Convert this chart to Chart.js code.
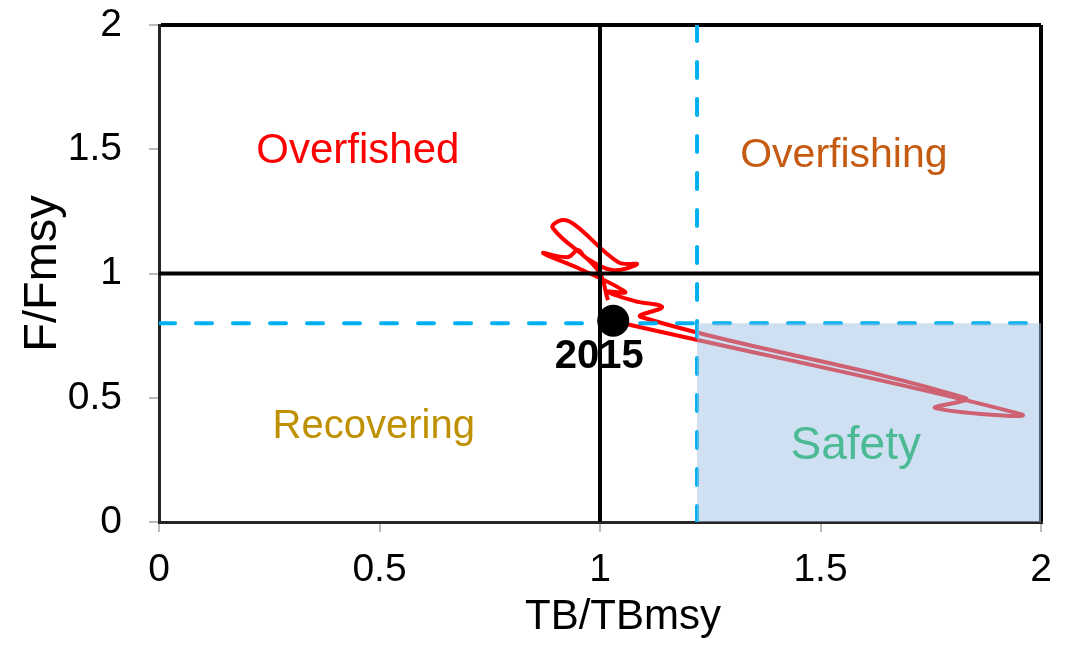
<!DOCTYPE html>
<html>
<head>
<meta charset="utf-8">
<script src="https://cdn.jsdelivr.net/npm/chart.js@4/dist/chart.umd.min.js"></script>
<style>
  html, body { margin: 0; padding: 0; background: #fff; }
  #wrap { width: 1078px; height: 650px; }
</style>
</head>
<body>
<div id="wrap"><canvas id="kobe"></canvas></div>
<script>
// trajectory, TB/TBmsy (x) and F/Fmsy (y)
const trajB = [1.018, 0.995, 0.893, 0.914, 0.943, 1.041, 1.084, 1.027, 0.966, 0.950, 0.927,
  0.871, 0.950, 1.057, 1.018, 1.079, 1.141, 1.093, 1.828, 1.760, 1.952, 1.029];
const trajF = [0.893, 1.014, 1.183, 1.215, 1.196, 1.046, 1.038, 1.014, 1.066, 1.095, 1.066,
  1.082, 1.022, 0.926, 0.926, 0.889, 0.865, 0.825, 0.499, 0.459, 0.435, 0.809];

// 2015 point
const lastYear = '2015';
const lastB = 1.03;
const lastF = 0.81;

// reference points
const refB = 1;      // TB/TBmsy = 1
const refF = 1;      // F/Fmsy = 1
const limB = 1.22;   // dashed blue
const limF = 0.8;

const axisMin = 0;
const axisMax = 2;
const tickLabels = ['0', '0.5', '1', '1.5', '2'];

const FONT = "'Liberation Sans', Arial, sans-serif";

// zone names (position in data units)
const zoneLabels = [
  { text: 'Overfished', x: 0.451, y: 1.490, color: '#FF0000', size: 42 },
  { text: 'Overfishing', x: 1.553, y: 1.475, color: '#C55A11', size: 41 },
  { text: 'Recovering', x: 0.487, y: 0.384, color: '#BF9000', size: 40 },
  { text: 'Safety', x: 1.580, y: 0.305, color: '#4CBB95', size: 46 }
];

const traj = trajB.map((b, i) => ({ x: b, y: trajF[i] }));

const labelPlugin = {
  id: 'zoneLabels',
  afterDraw(chart) {
    const { ctx, scales: { x, y } } = chart;
    ctx.save();
    ctx.textAlign = 'center';
    ctx.textBaseline = 'middle';
    zoneLabels.forEach(l => {
      ctx.font = l.size + 'px ' + FONT;
      ctx.fillStyle = l.color;
      ctx.fillText(l.text, x.getPixelForValue(l.x), y.getPixelForValue(l.y));
    });
    // year label under the last point
    ctx.font = 'bold 40px ' + FONT;
    ctx.fillStyle = '#000';
    ctx.fillText(lastYear, x.getPixelForValue(lastB) - 14, y.getPixelForValue(lastF) + 36);
    // x axis title, sits a bit right of the plot centre in the original
    ctx.font = '42px ' + FONT;
    ctx.fillText('TB/TBmsy', (x.left + x.right) / 2 + 23, 617);
    ctx.restore();
  }
};

function axis(title, isX) {
  return {
    type: 'linear',
    min: axisMin,
    max: axisMax,
    afterFit(s) {
      if (isX) s.height = 128; else s.width = 159;
      // labels overhang is already covered by layout padding
      s.paddingTop = 0; s.paddingBottom = 0; s.paddingLeft = 0; s.paddingRight = 0;
    },
    ticks: {
      stepSize: 0.5,
      color: '#000',
      padding: isX ? 19 : 27,
      font: { family: FONT, size: 39, lineHeight: 1 },
      callback: (v) => tickLabels[Math.round(v / 0.5)]
    },
    grid: {
      color: c => (c.tick && c.tick.value === axisMax) ? '#000' : 'rgba(0,0,0,0)',
      lineWidth: 4,
      drawTicks: true,
      tickLength: 10,
      tickColor: '#A6A6A6',
      tickWidth: 1.5
    },
    border: { color: '#262626', width: 3 },
    title: {
      display: !isX,
      text: title,
      color: '#000',
      font: { family: FONT, size: 47, lineHeight: 1 },
      padding: { top: 20, bottom: 0 }
    }
  };
}

new Chart(document.getElementById('kobe'), {
  type: 'scatter',
  data: {
    datasets: [
      { // safety zone, drawn on top with transparency
        data: [{ x: limB, y: limF }, { x: axisMax, y: limF }],
        showLine: true,
        borderWidth: 0,
        pointRadius: 0,
        fill: 'origin',
        backgroundColor: 'rgba(157,194,228,0.5)'
      },
      {
        data: [{ x: lastB, y: lastF }],
        pointRadius: 16,
        pointBackgroundColor: '#000',
        pointBorderWidth: 0
      },
      {
        data: [{ x: limB, y: axisMin }, { x: limB, y: axisMax }],
        showLine: true,
        borderColor: '#00B0F0',
        borderWidth: 4,
        borderDash: [16, 21],
        borderCapStyle: 'round',
        pointRadius: 0
      },
      {
        data: [{ x: axisMin, y: limF }, { x: axisMax, y: limF }],
        showLine: true,
        borderColor: '#00B0F0',
        borderWidth: 4,
        borderDash: [16, 21],
        borderCapStyle: 'round',
        pointRadius: 0
      },
      {
        data: [{ x: refB, y: axisMin }, { x: refB, y: axisMax }],
        showLine: true,
        borderColor: '#000',
        borderWidth: 4,
        pointRadius: 0
      },
      {
        data: [{ x: axisMin, y: refF }, { x: axisMax, y: refF }],
        showLine: true,
        borderColor: '#000',
        borderWidth: 4,
        pointRadius: 0
      },
      {
        data: traj,
        showLine: true,
        borderColor: '#FF0000',
        borderWidth: 4,
        tension: 0.4,
        pointRadius: 0
      }
    ]
  },
  options: {
    responsive: true,
    maintainAspectRatio: false,
    animation: false,
    layout: { padding: { left: 0, top: 25, right: 37, bottom: 0 } },
    plugins: {
      legend: { display: false },
      tooltip: { enabled: false }
    },
    scales: {
      x: axis('TB/TBmsy', true),
      y: axis('F/Fmsy', false)
    }
  },
  plugins: [labelPlugin]
});
</script>
</body>
</html>
